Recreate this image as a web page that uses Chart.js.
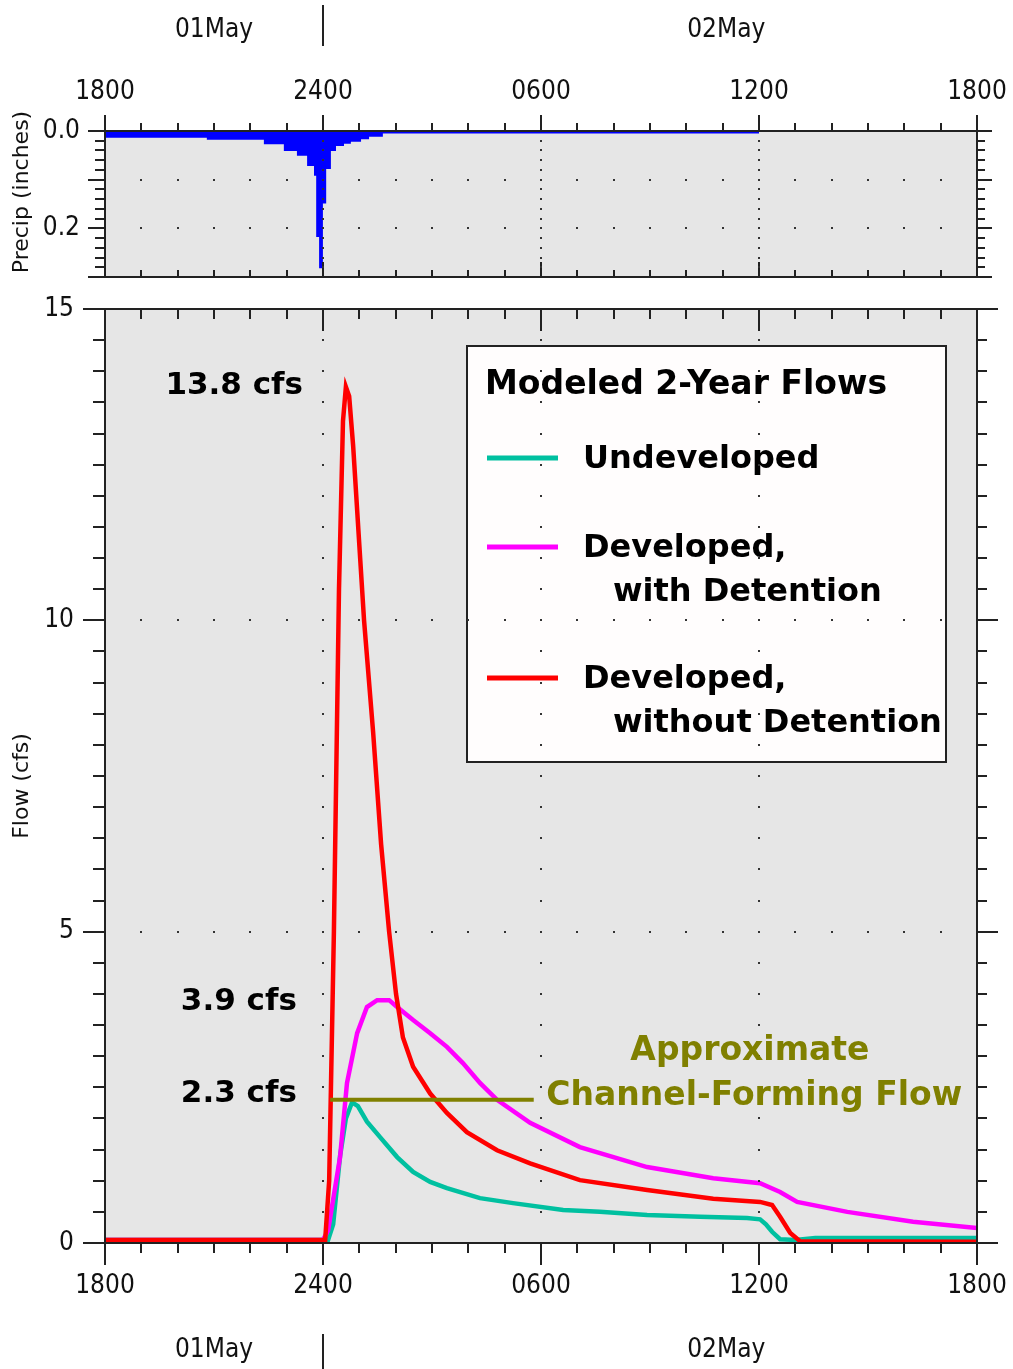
<!DOCTYPE html>
<html>
<head>
<meta charset="utf-8">
<title>Modeled 2-Year Flows</title>
<script src="https://cdn.jsdelivr.net/npm/chart.js@4.4.0/dist/chart.umd.min.js"></script>
<style>
  html, body { margin: 0; padding: 0; background: #fff; }
  #wrap { position: relative; width: 1013px; height: 1369px; }
  #wrap canvas { position: absolute; left: 0; top: 0; }
</style>
</head>
<body>
<div id="wrap">
  <canvas id="precipChart" width="1013" height="1369"></canvas>
  <canvas id="flowChart" width="1013" height="1369"></canvas>
</div>
<script>
// hours counted from 1800 on 01May
const hourLabels = ["1800", "2400", "0600", "1200", "1800"];
const dateLabels = ["01May", "02May"];
const dateHours = [3, 17.1];
const dayBreak = 6;

// precipitation (inches), step starts
const precipHours  = [0, 2.83, 4.40, 4.95, 5.31, 5.59, 5.78, 5.84, 5.92, 5.97, 6.06, 6.19, 6.33, 6.55, 6.74, 7.02, 7.24, 7.62, 9.30, 18.0];
const precipInches = [0.003, 0.012, 0.016, 0.025, 0.039, 0.049, 0.07, 0.09, 0.216, 0.28, 0.147, 0.076, 0.039, 0.029, 0.024, 0.020, 0.015, 0.010, 0.003, 0.003];

// flows (cfs)
const undevHours = [0, 6.14, 6.28, 6.47, 6.63, 6.80, 6.96, 7.21, 7.57, 8.04, 8.48, 8.95, 9.41, 10.32, 11.23, 12.61, 13.62, 14.92, 16.38, 17.67, 18.03, 18.19, 18.36, 18.58, 19.0, 19.55, 24];
const undevFlow  = [0.05, 0.05, 0.3, 1.4, 2.0, 2.26, 2.2, 1.95, 1.70, 1.38, 1.14, 0.98, 0.88, 0.72, 0.64, 0.53, 0.50, 0.45, 0.42, 0.40, 0.38, 0.30, 0.18, 0.06, 0.05, 0.08, 0.08];

const detHours = [0, 6.0, 6.14, 6.28, 6.47, 6.66, 6.94, 7.21, 7.49, 7.82, 8.04, 8.48, 8.95, 9.41, 9.85, 10.32, 10.79, 11.70, 13.07, 14.92, 16.74, 18.03, 18.58, 19.05, 20.43, 22.24, 24];
const detFlow  = [0.05, 0.05, 0.2, 0.7, 1.38, 2.57, 3.37, 3.79, 3.9, 3.9, 3.79, 3.58, 3.37, 3.15, 2.89, 2.57, 2.30, 1.93, 1.54, 1.22, 1.04, 0.96, 0.82, 0.66, 0.50, 0.34, 0.24];

const noDetHours = [0, 6.06, 6.17, 6.30, 6.44, 6.55, 6.63, 6.72, 6.83, 6.99, 7.13, 7.38, 7.60, 7.82, 8.01, 8.20, 8.48, 8.95, 9.41, 9.96, 10.79, 11.70, 13.07, 14.92, 16.74, 18.03, 18.36, 18.58, 18.86, 19.13, 24];
const noDetFlow  = [0.05, 0.05, 1.0, 5.0, 10.5, 13.2, 13.75, 13.6, 12.8, 11.3, 10.0, 8.2, 6.4, 5.0, 4.0, 3.3, 2.83, 2.4, 2.09, 1.78, 1.49, 1.28, 1.01, 0.85, 0.71, 0.66, 0.61, 0.42, 0.16, 0.03, 0.02];

const channelHours = [6.2, 11.8];
const channelFlow  = [2.3, 2.3];

const seriesNames = [["Undeveloped"], ["Developed,", "with Detention"], ["Developed,", "without Detention"]];
const seriesColors = ["#00c0a0", "#ff00ff", "#ff0000"];
const peakLabels = ["13.8 cfs", "3.9 cfs", "2.3 cfs"];
const peakFlows = [13.78, 3.89, 2.41];

function pts(xs, ys) {
  return xs.map((x, i) => ({x: x, y: ys[i]}));
}

Chart.defaults.font.family = "'DejaVu Sans Condensed', 'DejaVu Sans', sans-serif";
Chart.defaults.font.size = 26;
Chart.defaults.color = "#111";

const plotBg = "#e6e6e6";
const ink = "#222";

function tickMarks(chart, t) {
  const {ctx, chartArea: a, scales: {x, y}} = chart;
  ctx.save();
  ctx.strokeStyle = ink;
  ctx.lineWidth = 2;
  ctx.strokeRect(a.left, a.top, a.right - a.left, a.bottom - a.top);
  ctx.beginPath();
  for (let h = 0; h <= 24; h++) {
    const px = Math.round(x.getPixelForValue(h));
    const major = h % 6 === 0;
    ctx.moveTo(px, a.top);
    ctx.lineTo(px, a.top + t.top.dir * (major ? t.top.major : t.top.minor));
    ctx.moveTo(px, a.bottom);
    ctx.lineTo(px, a.bottom + t.bottom.dir * (major ? t.bottom.major : t.bottom.minor));
  }
  const n = Math.round(t.yMax / t.yStep);
  for (let i = 0; i <= n; i++) {
    const v = i * t.yStep;
    const py = Math.round(y.getPixelForValue(v));
    const r = v / t.yMajor;
    const major = Math.abs(r - Math.round(r)) < 1e-6;
    ctx.moveTo(a.left, py);
    ctx.lineTo(a.left - (major ? t.left.major : t.left.minor), py);
    ctx.moveTo(a.right, py);
    ctx.lineTo(a.right + (major ? t.right.major : t.right.minor), py);
  }
  ctx.stroke();

  // dotted grid
  ctx.fillStyle = "#333";
  for (const h of [6, 12, 18]) {
    const px = Math.round(x.getPixelForValue(h));
    for (let i = 1; i < n; i++) {
      const py = Math.round(y.getPixelForValue(i * t.yStep));
      ctx.fillRect(px - 1, py - 1, 2, 2);
    }
  }
  for (const v of t.yGrid) {
    const py = Math.round(y.getPixelForValue(v));
    for (let h = 1; h < 24; h++) {
      const px = Math.round(x.getPixelForValue(h));
      ctx.fillRect(px - 1, py - 1, 2, 2);
    }
  }
  ctx.restore();
}

function axisTitle(ctx, text, cx, cy) {
  ctx.save();
  ctx.translate(cx, cy);
  ctx.rotate(-Math.PI / 2);
  ctx.font = "22px 'DejaVu Sans', sans-serif";
  ctx.fillStyle = "#111";
  ctx.textAlign = "center";
  ctx.textBaseline = "middle";
  ctx.fillText(text, 0, 0);
  ctx.restore();
}

function dateRow(chart, textY, lineTop, lineBottom) {
  const {ctx, scales: {x}} = chart;
  ctx.save();
  ctx.font = "26px 'DejaVu Sans Condensed', 'DejaVu Sans', sans-serif";
  ctx.fillStyle = "#111";
  ctx.textAlign = "center";
  ctx.textBaseline = "middle";
  dateLabels.forEach((d, i) => ctx.fillText(d, x.getPixelForValue(dateHours[i]), textY));
  const px = Math.round(x.getPixelForValue(dayBreak));
  ctx.strokeStyle = ink;
  ctx.lineWidth = 2;
  ctx.beginPath();
  ctx.moveTo(px, lineTop);
  ctx.lineTo(px, lineBottom);
  ctx.stroke();
  ctx.restore();
}

const bgPlugin = {
  id: "plotBg",
  beforeDraw(chart) {
    const {ctx, chartArea: a} = chart;
    ctx.save();
    ctx.fillStyle = plotBg;
    ctx.fillRect(a.left, a.top, a.right - a.left, a.bottom - a.top);
    ctx.restore();
  }
};

const hourTicks = {
  min: 0, max: 24, stepSize: 6, maxRotation: 0, autoSkip: false,
  callback: (v) => hourLabels[Math.round(v / 6)]
};

// fixed axis sizes so both panels share the same plot box
function fixX(h) {
  return (s) => { s.height = h; s.paddingLeft = 0; s.paddingRight = 0; };
}
function fixY(w) {
  return (s) => { s.width = w; s.paddingTop = 0; s.paddingBottom = 0; };
}

// ---- precipitation panel ----
new Chart("precipChart", {
  type: "line",
  data: {
    datasets: [{
      data: pts(precipHours, precipInches),
      stepped: "after",
      fill: "origin",
      borderColor: "#0000ff",
      backgroundColor: "#0000ff",
      borderWidth: 2,
      pointRadius: 0
    }]
  },
  options: {
    responsive: false,
    animation: false,
    layout: {padding: {left: 0, right: 36, top: 0, bottom: 1092}},
    plugins: {legend: {display: false}, tooltip: {enabled: false}},
    scales: {
      x: {
        type: "linear", position: "top", min: 0, max: 24,
        grid: {display: false, drawTicks: false}, border: {display: false},
        ticks: Object.assign({padding: 23}, hourTicks),
        afterFit: fixX(131)
      },
      y: {
        reverse: true, min: 0, max: 0.3,
        grid: {display: false, drawTicks: false}, border: {display: false},
        ticks: {stepSize: 0.2, includeBounds: false, padding: 25, callback: (v) => v.toFixed(1)},
        afterFit: fixY(105)
      }
    }
  },
  plugins: [bgPlugin, {
    id: "precipDecor",
    afterDatasetsDraw(chart) {
      tickMarks(chart, {
        top: {dir: -1, major: 16, minor: 8},
        bottom: {dir: -1, major: 15, minor: 7},
        left: {major: 17, minor: 10},
        right: {major: 15, minor: 8},
        yStep: 0.02, yMajor: 0.1, yMax: 0.3, yGrid: [0.1, 0.2]
      });
      axisTitle(chart.ctx, "Precip (inches)", 22, 192);
      dateRow(chart, 30, 5, 46);
    }
  }]
});

// ---- flow panel ----
const legendBox = {left: 467, top: 346, right: 946, bottom: 762};

new Chart("flowChart", {
  type: "line",
  data: {
    datasets: [
      {label: "Channel", data: pts(channelHours, channelFlow), borderColor: "#808000", borderWidth: 4, order: 0},
      {label: seriesNames[2].join(" "), data: pts(noDetHours, noDetFlow), borderColor: seriesColors[2], borderWidth: 4.5, order: 1},
      {label: seriesNames[1].join(" "), data: pts(detHours, detFlow), borderColor: seriesColors[1], borderWidth: 4.5, order: 2},
      {label: seriesNames[0].join(" "), data: pts(undevHours, undevFlow), borderColor: seriesColors[0], borderWidth: 4.5, order: 3}
    ].map((d) => Object.assign({pointRadius: 0, tension: 0, fill: false, borderJoinStyle: "miter"}, d))
  },
  options: {
    responsive: false,
    animation: false,
    layout: {padding: {left: 0, right: 36, top: 309, bottom: 0}},
    plugins: {legend: {display: false}, tooltip: {enabled: false}},
    scales: {
      x: {
        type: "linear", position: "bottom", min: 0, max: 24,
        grid: {display: false, drawTicks: false}, border: {display: false},
        ticks: Object.assign({padding: 28}, hourTicks),
        afterFit: fixX(126)
      },
      y: {
        min: 0, max: 15,
        grid: {display: false, drawTicks: false}, border: {display: false},
        ticks: {stepSize: 5, padding: 31},
        afterFit: fixY(105)
      }
    }
  },
  plugins: [bgPlugin, {
    id: "flowLegend",
    beforeDatasetsDraw(chart) {
      const ctx = chart.ctx;
      const b = legendBox;
      ctx.save();
      ctx.fillStyle = "#fffdfd";
      ctx.fillRect(b.left, b.top, b.right - b.left, b.bottom - b.top);
      ctx.strokeStyle = ink;
      ctx.lineWidth = 2;
      ctx.strokeRect(b.left, b.top, b.right - b.left, b.bottom - b.top);
      ctx.fillStyle = "#000";
      ctx.font = "bold 33px 'DejaVu Sans', sans-serif";
      ctx.textBaseline = "alphabetic";
      ctx.fillText("Modeled 2-Year Flows", b.left + 18, b.top + 48);
      ctx.font = "bold 32px 'DejaVu Sans', sans-serif";
      const rowTop = [122, 211, 342];
      seriesNames.forEach((lines, i) => {
        const base = b.top + rowTop[i];
        ctx.strokeStyle = seriesColors[i];
        ctx.lineWidth = 5;
        ctx.beginPath();
        ctx.moveTo(b.left + 20, base - 10);
        ctx.lineTo(b.left + 91, base - 10);
        ctx.stroke();
        lines.forEach((t, j) => {
          ctx.fillText(t, b.left + 116 + (j ? 30 : 0), base + j * 44);
        });
      });
      ctx.restore();
    },
    afterDatasetsDraw(chart) {
      const {ctx, scales: {x, y}} = chart;
      tickMarks(chart, {
        top: {dir: 1, major: 22, minor: 10},
        bottom: {dir: 1, major: 22, minor: 10},
        left: {major: 22, minor: 12},
        right: {major: 21, minor: 10},
        yStep: 0.5, yMajor: 5, yMax: 15, yGrid: [5, 10]
      });
      ctx.save();
      ctx.fillStyle = "#000";
      ctx.font = "bold 31px 'DejaVu Sans', sans-serif";
      ctx.textAlign = "right";
      ctx.textBaseline = "middle";
      const peakRight = [5.45, 5.28, 5.28];
      peakLabels.forEach((t, i) => ctx.fillText(t, x.getPixelForValue(peakRight[i]), y.getPixelForValue(peakFlows[i]) + 1));
      ctx.fillStyle = "#808000";
      ctx.font = "bold 33px 'DejaVu Sans', sans-serif";
      ctx.textAlign = "center";
      ctx.fillText("Approximate", x.getPixelForValue(17.75), y.getPixelForValue(3.07));
      ctx.fillText("Channel-Forming Flow", x.getPixelForValue(17.87), y.getPixelForValue(2.36));
      ctx.restore();
      axisTitle(ctx, "Flow (cfs)", 22, 786);
      dateRow(chart, 1350, 1334, 1369);
    }
  }]
});
</script>
</body>
</html>
